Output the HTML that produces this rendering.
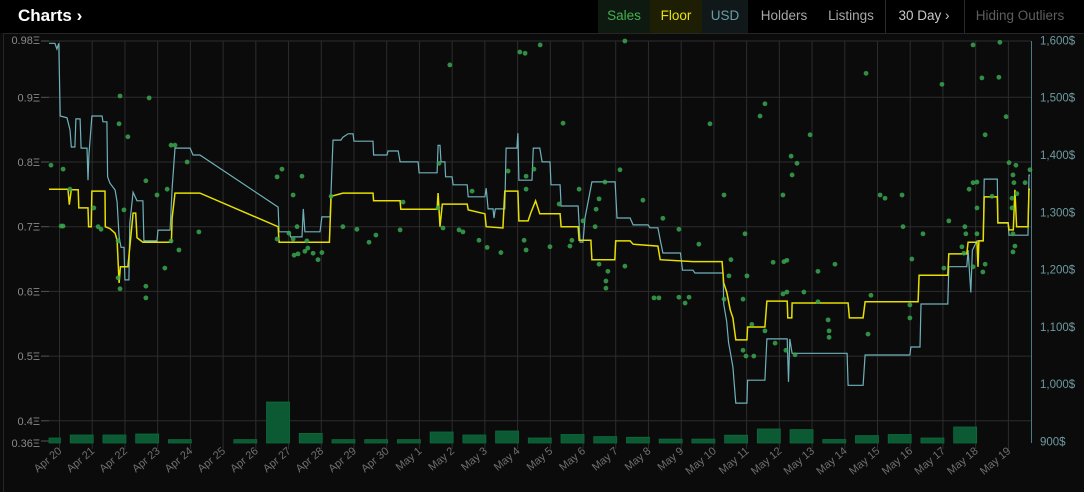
<!DOCTYPE html>
<html><head><meta charset="utf-8"><style>
html,body{margin:0;padding:0;background:#000;width:1084px;height:492px;overflow:hidden;font-family:"Liberation Sans",sans-serif}
#hdr{position:absolute;left:0;top:0;width:1084px;height:33px;background:#000}
.t{position:absolute;top:0;height:33px;line-height:32px;font-size:13.5px;text-align:center}
.div{position:absolute;top:0;width:1px;height:33px;background:#2a2a2a}
svg{position:absolute;left:0;top:0}
</style></head><body>
<div id="hdr">
<div class="t" style="left:18px;font-weight:bold;font-size:17px;color:#fff;text-align:left">Charts ›</div>
<div class="t" style="left:598px;width:52px;background:#0e1a10;color:#43b04f">Sales</div>
<div class="t" style="left:650px;width:52px;background:#1e1e05;color:#e8e310">Floor</div>
<div class="t" style="left:702px;width:46px;background:#10181a;color:#6a9ea6">USD</div>
<div class="t" style="left:753px;width:62px;color:#a8a8a8">Holders</div>
<div class="t" style="left:822px;width:58px;color:#a8a8a8">Listings</div>
<div class="div" style="left:885px"></div>
<div class="t" style="left:890px;width:68px;color:#c8c8c8">30 Day ›</div>
<div class="div" style="left:964px"></div>
<div class="t" style="left:970px;width:100px;color:#5e5e5e">Hiding Outliers</div>
</div>
<svg id="chart" width="1084" height="492" viewBox="0 0 1084 492" style="top:0"></svg>
<script>
const dayLabels=["Apr 20","Apr 21","Apr 22","Apr 23","Apr 24","Apr 25","Apr 26","Apr 27","Apr 28","Apr 29","Apr 30","May 1","May 2","May 3","May 4","May 5","May 6","May 7","May 8","May 9","May 10","May 11","May 12","May 13","May 14","May 15","May 16","May 17","May 18","May 19"];
const ethTicks=[0.98,0.9,0.8,0.7,0.6,0.5,0.4,0.36];
const ethTickLabels=["0.98Ξ","0.9Ξ","0.8Ξ","0.7Ξ","0.6Ξ","0.5Ξ","0.4Ξ","0.36Ξ"];
const usdTicks=[1600,1500,1400,1300,1200,1100,1000,900];
const usdTickLabels=["1,600$","1,500$","1,400$","1,300$","1,200$","1,100$","1,000$","900$"];
const volume=[5,8,8,9,3.4,0,3.4,41,9.6,3.4,3.4,3.4,11,8,12,5,8.5,6.4,5.7,3.9,3.9,7.8,14,13.4,3.5,7.4,8.5,5,16,0];
const floorEth=[[-0.32,.758],[0.26,.758],[0.30,.734],[0.36,.757],[0.57,.757],[0.59,.729],[0.87,.729],[0.89,.700],[0.97,.700],[0.99,.755],[1.39,.755],[1.40,.700],[1.54,.697],[1.70,.690],[1.76,.679],[1.82,.613],[1.86,.638],[2.09,.638],[2.25,.721],[2.33,.721],[2.37,.683],[2.55,.676],[3.42,.676],[3.44,.713],[3.53,.752],[4.29,.752],[6.68,.700],[6.71,.676],[8.25,.676],[8.30,.747],[8.66,.752],[9.58,.752],[9.60,.740],[10.41,.740],[10.43,.727],[11.54,.727],[11.57,.752],[11.63,.700],[11.70,.735],[12.46,.735],[12.49,.726],[13.00,.720],[13.04,.700],[13.55,.698],[13.61,.755],[14.01,.755],[14.04,.709],[14.32,.709],[14.40,.721],[14.55,.740],[14.68,.720],[15.30,.720],[15.33,.700],[15.85,.700],[15.88,.679],[16.24,.679],[16.27,.649],[16.97,.649],[17.00,.678],[17.44,.678],[17.53,.673],[18.29,.670],[18.36,.649],[19.36,.646],[20.25,.646],[20.30,.613],[20.39,.599],[20.50,.571],[20.58,.559],[20.67,.525],[21.01,.525],[21.03,.545],[21.56,.545],[21.62,.585],[22.24,.585],[22.26,.559],[22.38,.559],[22.39,.582],[24.10,.582],[24.14,.559],[24.56,.559],[24.62,.584],[26.24,.584],[26.27,.625],[27.15,.625],[27.18,.658],[27.73,.658],[27.77,.676],[28.04,.676],[28.07,.638],[28.10,.678],[28.23,.678],[28.26,.746],[28.66,.746],[28.68,.706],[28.99,.706],[29.02,.695],[29.15,.695],[29.20,.757],[29.25,.700],[29.60,.700],[29.63,.758],[29.66,.758]];
const floorUsd=[[-0.32,1595],[-0.14,1595],[-0.08,1585],[-0.02,1595],[0.02,1468],[0.23,1465],[0.32,1444],[0.36,1414],[0.47,1414],[0.50,1463],[0.63,1463],[0.66,1412],[0.84,1412],[0.87,1356],[0.90,1400],[0.99,1468],[1.30,1468],[1.33,1458],[1.45,1458],[1.47,1362],[1.54,1351],[1.70,1339],[1.76,1318],[1.82,1257],[1.88,1239],[1.97,1239],[2.00,1182],[2.12,1182],[2.15,1281],[2.25,1335],[2.37,1320],[2.55,1320],[2.58,1250],[2.98,1250],[3.01,1269],[3.38,1269],[3.44,1341],[3.53,1412],[3.99,1412],[4.08,1400],[4.29,1400],[6.68,1309],[6.71,1266],[7.04,1266],[7.06,1257],[7.41,1257],[7.45,1306],[7.50,1266],[7.96,1266],[8.02,1292],[8.27,1292],[8.36,1426],[8.60,1426],[8.66,1431],[8.82,1437],[8.97,1437],[9.00,1424],[9.58,1424],[9.60,1400],[10.01,1400],[10.04,1407],[10.35,1407],[10.41,1388],[10.96,1388],[10.99,1369],[11.54,1369],[11.57,1417],[11.63,1417],[11.66,1388],[11.78,1388],[11.80,1362],[12.00,1362],[12.03,1348],[12.46,1348],[12.49,1327],[13.00,1327],[13.04,1342],[13.10,1306],[13.25,1306],[13.28,1290],[13.32,1306],[13.61,1306],[13.65,1412],[13.98,1412],[14.01,1438],[14.04,1356],[14.44,1356],[14.48,1412],[14.68,1412],[14.75,1388],[14.99,1388],[15.02,1348],[15.30,1348],[15.33,1311],[15.85,1311],[15.91,1248],[16.00,1248],[16.06,1290],[16.27,1353],[16.98,1353],[17.04,1290],[17.44,1290],[17.53,1278],[17.99,1278],[18.05,1273],[18.29,1273],[18.36,1252],[18.44,1229],[18.98,1229],[19.04,1199],[19.36,1199],[19.42,1194],[20.28,1194],[20.30,1140],[20.39,1109],[20.45,1072],[20.49,1060],[20.58,1030],[20.67,967],[21.01,967],[21.03,1007],[21.56,1007],[21.62,1079],[22.24,1079],[22.28,1004],[22.32,1079],[22.39,1054],[24.07,1054],[24.10,998],[24.56,998],[24.62,1051],[25.99,1051],[26.02,1065],[26.30,1065],[26.33,1140],[27.15,1140],[27.18,1205],[27.73,1205],[27.77,1234],[27.85,1160],[27.90,1234],[28.04,1250],[28.23,1250],[28.26,1358],[28.66,1358],[28.68,1281],[28.99,1281],[29.02,1260],[29.60,1260],[29.63,1365],[29.66,1365]];
const salesT=[-0.26,0.11,0.05,0.11,0.32,1.05,1.18,1.27,1.82,2.09,1.97,1.79,1.79,1.85,2.64,2.64,2.74,2.64,2.98,3.29,3.22,3.41,3.65,3.41,3.53,3.90,4.26,6.65,6.80,7.14,7.41,7.26,7.01,7.17,7.29,7.50,7.59,7.75,7.90,8.02,6.65,7.14,7.56,8.30,8.66,9.09,9.46,9.67,10.41,10.50,11.60,11.57,11.72,12.21,12.33,12.61,12.82,13.07,13.49,13.71,14.20,14.26,14.26,14.26,14.50,14.99,15.39,15.27,15.60,15.66,15.88,16.00,16.37,16.40,16.49,16.67,16.49,16.76,16.70,16.70,17.28,17.13,17.83,18.44,18.93,18.17,18.32,18.93,19.12,19.24,19.54,20.31,20.52,20.46,20.31,20.95,21.01,20.89,20.89,20.98,21.22,21.16,21.56,21.87,21.81,22.14,22.23,22.36,22.54,22.39,22.11,22.11,22.23,22.20,22.48,22.75,23.18,23.18,23.49,23.52,23.52,23.70,24.71,24.80,25.08,25.23,25.75,25.78,26.05,25.99,25.99,26.39,27.18,27.03,27.58,27.64,27.67,27.70,27.80,27.92,28.04,28.04,28.04,27.92,28.22,28.29,28.50,29.02,29.23,29.14,29.17,29.26,29.11,29.11,29.14,29.20,29.14,29.51,29.66,14.23,14.69,14.07,11.93,17.28,21.56,28.74,27.92,28.71,28.19,26.97,24.65,28.93,28.29,21.41,22.94,19.88,1.85];
const salesEth=[.795,.789,.701,.701,.758,.729,.700,.696,.859,.839,.726,.678,.621,.604,.608,.590,.899,.771,.749,.758,.636,.678,.664,.826,.826,.800,.692,.777,.789,.749,.778,.700,.690,.656,.658,.662,.667,.659,.649,.660,.681,.681,.678,.747,.700,.696,.676,.687,.695,.738,.798,.729,.698,.695,.692,.755,.679,.668,.660,.786,.679,.664,.758,.778,.789,.669,.860,.735,.670,.679,.758,.709,.700,.727,.743,.769,.642,.631,.616,.605,.639,.788,.741,.713,.696,.590,.590,.591,.582,.591,.673,.749,.649,.624,.588,.689,.624,.588,.509,.500,.500,.549,.539,.520,.645,.646,.648,.809,.798,.780,.749,.596,.599,.509,.502,.599,.631,.584,.556,.539,.529,.642,.534,.594,.749,.744,.749,.700,.650,.579,.559,.689,.709,.636,.669,.659,.700,.689,.758,.768,.769,.729,.689,.638,.630,.642,.747,.799,.795,.780,.768,.751,.744,.729,.689,.670,.661,.768,.788,.968,.981,.970,.950,.988,.890,.985,.981,.931,.930,.920,.937,.870,.842,.871,.842,.859,.902];

const NS="http://www.w3.org/2000/svg";
const svg=document.getElementById('chart');
const PL=49,PR=1031,PT=41,PB=443;
function xS(t){return 59.5+32.72*t;}
function yE(v){return Math.max(PT,Math.min(PB,226.7-(v-0.7)*647));}
function yU(v){return 155+(1400-v)*0.573;}
function hV(v){return v*1.0;}
function mk(tag,attrs,parent){const e=document.createElementNS(NS,tag);for(const k in attrs)e.setAttribute(k,attrs[k]);(parent||svg).appendChild(e);return e;}

mk('rect',{x:0,y:33,width:1084,height:459,fill:'#0b0b0b'});
mk('line',{x1:3.5,y1:33,x2:3.5,y2:492,stroke:'#262626'});
mk('line',{x1:3,y1:33.5,x2:1084,y2:33.5,stroke:'#262626'});
const grid=mk('g',{});


ethTicks.forEach((v,i)=>{
  const y=yE(v);
  if(i>0&&i<ethTicks.length-1) mk('line',{x1:PL,x2:PR,y1:y,y2:y,stroke:'#2c2c2c','stroke-width':1},grid);
  const t=mk('text',{x:40,y:(i==0?44:y+4),'text-anchor':'end','font-size':11,fill:'#8a8a8a'});
  t.textContent=ethTickLabels[i];
  
  
  mk('line',{x1:41,x2:PL,y1:(i==0?41:i==ethTicks.length-1?441:y),y2:(i==0?41:i==ethTicks.length-1?441:y),stroke:'#555'},grid);
});
mk('line',{x1:PL,x2:PR,y1:41,y2:41,stroke:'#2c2c2c'},grid);
dayLabels.forEach((d,i)=>{
  const x=xS(i);
  mk('line',{x1:x,x2:x,y1:PT,y2:PB+6,stroke:'#2c2c2c'},grid);
  const t=mk('text',{x:x+3,y:452,'text-anchor':'end','font-size':11,fill:'#707070',transform:`rotate(-40 ${x+3} 452)`});
  t.textContent=d;
  
  
});
usdTicks.forEach((v,i)=>{
  const t=mk('text',{x:1040,y:yU(v)+4,'font-size':11.5,fill:'#6d9aa1'});
  t.textContent=usdTickLabels[i];
  
  
});
mk('line',{x1:PR+0.5,x2:PR+0.5,y1:PT,y2:PB,stroke:'#4b7c84'});

const bars=mk('g',{});


volume.forEach((v,i)=>{
  if(v<=0)return;
  let x0=xS(i)-22,x1=xS(i)+1;
  x0=Math.max(PL,x0);
  const h=hV(v);
  const r=mk('rect',{x:x0,y:PB-h,width:x1-x0,height:h,fill:'#0b5a33',stroke:'#0d6a3c','stroke-width':0.8},bars);
  
  
});

function path(arr,yf){return arr.map((p,i)=>(i?'L':'M')+xS(p[0]).toFixed(1)+' '+yf(p[1]).toFixed(1)).join(' ');}
const usdLine=mk('path',{d:path(floorUsd,yU),fill:'none',stroke:'#6fb1ba','stroke-width':1.2});


const ethLine=mk('path',{d:path(floorEth,yE),fill:'none',stroke:'#e6df00','stroke-width':1.5});



const dots=mk('g',{});


salesT.forEach((t,i)=>{
  const v=salesEth[i];
  const c=mk('circle',{cx:xS(t),cy:yE(v),r:2.4,fill:'#38a650','fill-opacity':0.85},dots);
  
  
});
</script>
</body></html>
